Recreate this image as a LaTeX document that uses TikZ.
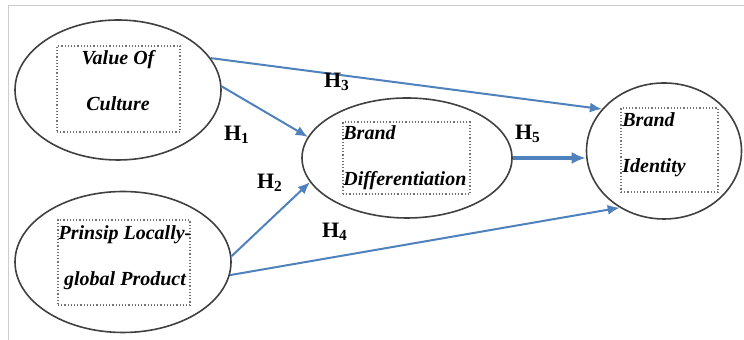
\documentclass[tikz,border=0pt]{standalone}
\usepackage{fontspec}
\setmainfont{Liberation Serif}
\usepackage{tikz}
\usetikzlibrary{arrows.meta,shapes.geometric}
\definecolor{arrowblue}{HTML}{4F81BD}
\tikzset{
  construct/.style={ellipse,draw=black!75,line width=0.8pt,inner sep=0pt},
  varbox/.style={draw=black!55,densely dotted,line width=0.6pt,inner sep=0pt},
  vartext/.style={inner sep=0pt,font=\fontsize{10}{23}\selectfont\bfseries\itshape},
  hyp/.style={-{Latex[length=6pt,width=5pt]},draw=arrowblue,line width=1pt},
  hlabel/.style={font=\fontsize{11}{13}\selectfont\bfseries}
}
\newcommand{\hypo}[1]{H\textsubscript{#1}}

\begin{document}
\begin{tikzpicture}[x=0.5pt,y=-0.5pt]
\useasboundingbox (0,0) rectangle (744,340);
\draw[black!20,line width=0.5pt] (8,340) -- (8,6) -- (744,6);
\node[construct,minimum width=103pt,minimum height=70pt] (culture) at (118,90) {};
\node[construct,minimum width=108pt,minimum height=70.5pt] (prinsip) at (123,262) {};
\node[construct,minimum width=105pt,minimum height=60pt] (diff) at (407,158) {};
\node[construct,minimum width=77.5pt,minimum height=68pt] (ident) at (664,151) {};
\node[varbox,minimum width=61.5pt,minimum height=43pt] (cultureBox) at (118.5,89) {};
\node[varbox,minimum width=66pt,minimum height=42.5pt] (prinsipBox) at (124,262.5) {};
\node[varbox,minimum width=63.5pt,minimum height=36pt] (diffBox) at (406.5,158) {};
\node[varbox,minimum width=48.5pt,minimum height=42pt] (identBox) at (669.5,150) {};
\node[vartext,anchor=north,align=center] (cultureText) at (118,50) {Value Of\\Culture};
\node[vartext,anchor=north,align=center] (prinsipText) at (125,225) {Prinsip Locally-\\global Product};
\node[vartext,anchor=north west,align=left] (diffText) at (343,125) {Brand\\Differentiation};
\node[vartext,anchor=north west,align=left] (identText) at (622,112) {Brand\\Identity};
\draw[hyp] (culture.19) -- (ident.146);
\draw[hyp] (culture.2) -- (diff.168);
\draw[hyp] (prinsip.3) -- (diff.194);
\draw[hyp] (prinsip.-7) -- (ident.232);
\draw[hyp,line width=2pt,-{Latex[length=7pt,width=6pt]}] (diff.east) -- (diff.east -| ident.west);
\node[hlabel] (h1) at (237,135) {\hypo{1}};
\node[hlabel] (h2) at (270,183) {\hypo{2}};
\node[hlabel] (h3) at (337,82) {\hypo{3}};
\node[hlabel] (h4) at (335,232) {\hypo{4}};
\node[hlabel] (h5) at (528,134) {\hypo{5}};
\end{tikzpicture}
\end{document}
